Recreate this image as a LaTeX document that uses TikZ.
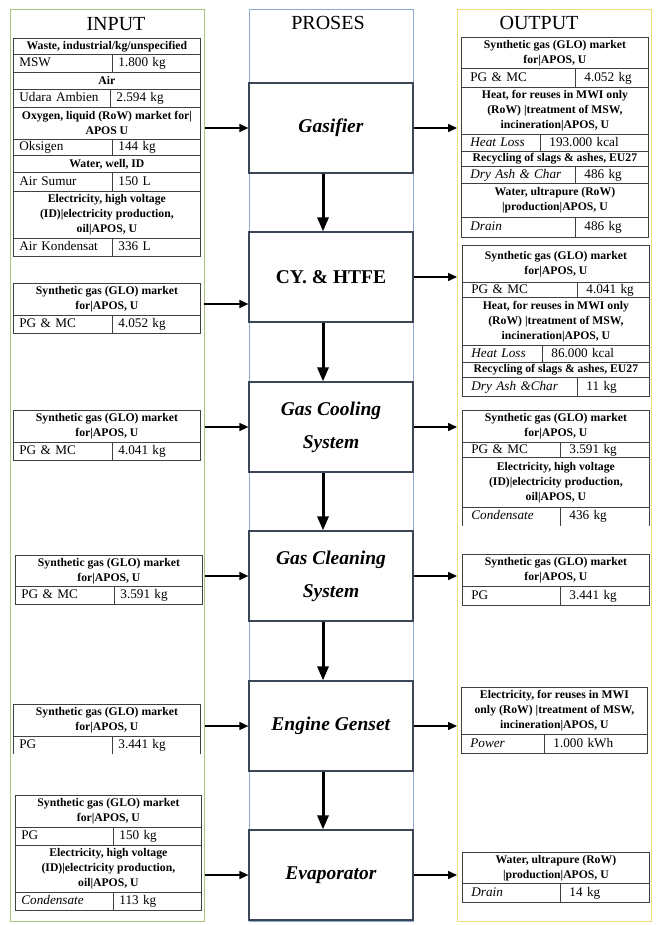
\documentclass[tikz,border=0pt]{standalone}
\usepackage{fontspec}
\setmainfont{Liberation Serif}
\usetikzlibrary{positioning, arrows.meta}
\definecolor{ingreen}{HTML}{A9C47F}
\definecolor{procblue}{HTML}{8EA9CF}
\definecolor{outyellow}{HTML}{F2DC7A}
\definecolor{tabline}{HTML}{404040}
\definecolor{procline}{HTML}{3B4656}

\begin{document}
\begin{tikzpicture}[x=1pt, y=-1pt]
	\tikzset{
		frame/.style={draw, line width=1.4pt, anchor=north west, minimum width=194, minimum height=912, inner sep=0pt},
		title/.style={anchor=base, font=\fontsize{20}{24}\selectfont},
		procbox/.style={draw=procline, line width=1.2pt, fill=white, minimum width=164, minimum height=90, inner sep=0pt, align=center, font=\bfseries\fontsize{19.5}{33}\selectfont},
		hcell/.style={draw=tabline, line width=0.8pt, anchor=north west, inner sep=0pt, align=center, font=\bfseries\fontsize{11.7}{15}\selectfont},
		vcell/.style={draw=tabline, line width=0.8pt, anchor=north west, inner ysep=0pt, text height=9.5pt, text depth=3pt, align=left, font=\fontsize{13.2}{15}\selectfont},
		harrow/.style={-{Triangle[length=9pt,width=8pt]}, line width=1.5pt},
		varrow/.style={-{Triangle[length=14pt,width=11pt]}, line width=3pt}
	}
	\useasboundingbox (0,0) rectangle (659,925);
	\node[frame, draw=ingreen] (inframe) at (10,9) {};
	\node[frame, draw=procblue, minimum width=164] (procframe) at (249,9) {};
	\node[frame, draw=outyellow] (outframe) at (457,9) {};
	\node[title] (intitle) at (116,31) {INPUT};
	\node[title] (proctitle) at (328,30) {PROSES};
	\node[title] (outtitle) at (539,30) {OUTPUT};
	\foreach \n/\y/\txt in {gasif/128/{\textit{Gasifier}}, cy/277/{CY. \& HTFE}, cool/427/{\textit{Gas Cooling}\\\textit{System}},
		clean/576/{\textit{Gas Cleaning}\\\textit{System}}, eng/726/{\textit{Engine Genset}}, evap/875/{\textit{Evaporator}}} {
		\node[procbox] (\n) at (331,\y) {\txt};
	}
	\foreach \n/\xl/\xr/\yt/\yb/\txt in {
		ih1/13/200/38/54/{Waste, industrial/kg/unspecified},
		ih2/13/200/72/89/{Air},
		ih3/13/200/107/139/{Oxygen, liquid (RoW) market for|\\APOS U},
		ih4/13/200/155/172/{Water, well, ID},
		ih5/13/200/191/238/{Electricity, high voltage\\(ID)|electricity production,\\oil|APOS, U},
		ih6/13/200/283/315/{Synthetic gas (GLO) market\\for|APOS, U},
		ih7/13/200/410/442/{Synthetic gas (GLO) market\\for|APOS, U},
		ih8/15/202/555/586/{Synthetic gas (GLO) market\\for|APOS, U},
		ih9/13/200/704/736/{Synthetic gas (GLO) market\\for|APOS, U},
		ih10/15/201/795/827/{Synthetic gas (GLO) market\\for|APOS, U},
		ih11/15/201/845/892/{Electricity, high voltage\\(ID)|electricity production,\\oil|APOS, U},
		oh1/461/648/37/68/{Synthetic gas (GLO) market\\for|APOS, U},
		oh2/461/648/87/134/{Heat, for reuses in MWI only\\(RoW) |treatment of MSW,\\incineration|APOS, U},
		oh3/461/648/151/166/{Recycling of slags \& ashes, EU27},
		oh4/461/648/183/217/{Water, ultrapure (RoW)\\|production|APOS, U},
		oh5/462/649/245/282/{Synthetic gas (GLO) market\\for|APOS, U},
		oh6/462/649/297/345/{Heat, for reuses in MWI only\\(RoW) |treatment of MSW,\\incineration|APOS, U},
		oh7/462/649/362/377/{Recycling of slags \& ashes, EU27},
		oh8/462/649/410/442/{Synthetic gas (GLO) market\\for|APOS, U},
		oh9/462/649/457/507/{Electricity, high voltage\\(ID)|electricity production,\\oil|APOS, U},
		oh10/462/649/554/586/{Synthetic gas (GLO) market\\for|APOS, U},
		oh11/461/647/687/734/{Electricity, for reuses in MWI\\only (RoW) |treatment of MSW,\\incineration|APOS, U},
		oh12/462/649/852/883/{Water, ultrapure (RoW)\\|production|APOS, U}} {
		\node[hcell, minimum width=\xr-\xl, minimum height=\yb-\yt] (\n) at (\xl,\yt) {\txt};
	}
	\foreach \n/\xl/\xd/\xr/\yt/\yb/\ta/\tb in {
		iv1/13/112/200/54/72/{MSW}/{1.800 kg},
		iv2/13/110/200/89/107/{Udara Ambien}/{2.594 kg},
		iv3/13/112/200/139/155/{Oksigen}/{144 kg},
		iv4/13/112/200/172/191/{Air Sumur}/{150 L},
		iv5/13/112/200/238/256/{Air Kondensat}/{336 L},
		iv6/13/112/200/315/333/{PG \& MC}/{4.052 kg},
		iv7/13/112/200/442/460/{PG \& MC}/{4.041 kg},
		iv8/15/114/202/586/604/{PG \& MC}/{3.591 kg},
		iv10/15/113/201/827/845/{PG}/{150 kg},
		iv11/15/113/201/892/910/{\itshape Condensate}/{113 kg},
		ov1/461/575/648/68/87/{PG \& MC}/{4.052 kg},
		ov2/461/540/648/134/151/{\itshape Heat Loss}/{193.000 kcal},
		ov3/461/575/648/166/183/{\itshape Dry Ash \& Char}/{486 kg},
		ov4/461/575/648/217/237/{\itshape Drain}/{486 kg},
		ov5/462/577/649/282/297/{PG \& MC}/{4.041 kg},
		ov6/462/542/649/345/362/{\itshape Heat Loss}/{86.000 kcal},
		ov7/462/577/649/377/396/{\itshape Dry Ash \&Char}/{11 kg},
		ov8/462/560/649/442/457/{PG \& MC}/{3.591 kg},
		ov10/462/560/649/586/605/{PG}/{3.441 kg},
		ov11/461/544/647/734/753/{\itshape Power}/{1.000 kWh},
		ov12/462/560/649/883/902/{\itshape Drain}/{14 kg}} {
		\pgfmathsetmacro\pd{\xl<300 ? 6 : 9}
		\pgfmathsetmacro\wa{\xd-\xl-2*\pd}
		\pgfmathsetmacro\wb{\xr-\xd-2*\pd}
		\node[vcell, inner xsep=\pd pt, text width=\wa pt, minimum height=\yb-\yt] (\n-l) at (\xl,\yt) {\ta};
		\node[vcell, inner xsep=\pd pt, text width=\wb pt, minimum height=\yb-\yt] (\n-r) at (\xd,\yt) {\tb};
	}
	\node[vcell, draw=none, inner xsep=6pt, text width=87pt, minimum height=17] (iv9-l) at (13,736) {PG};
	\node[vcell, draw=none, inner xsep=6pt, text width=76pt, minimum height=17] (iv9-r) at (112,736) {3.441 kg};
	\node[vcell, draw=none, inner xsep=9pt, text width=80pt, minimum height=18] (ov9-l) at (462,507) {\itshape Condensate};
	\node[vcell, draw=none, inner xsep=9pt, text width=71pt, minimum height=18] (ov9-r) at (560,507) {436 kg};
	\foreach \c in {iv9,ov9} {
		\draw[tabline, line width=0.8pt] (\c-l.north west) -- (\c-l.south west) (\c-l.north east) -- (\c-l.south east)
			(\c-r.north east) -- (\c-r.south east);
	}
	\coordinate (cyin) at (204,304);
	\foreach \p in {gasif,cool,clean,eng,evap}
		\draw[harrow] (inframe.east |- \p.west) -- (\p.west);
	\draw[harrow] (cyin) -- (cyin -| cy.west);
	\foreach \p in {gasif,cy,cool,clean,eng,evap}
		\draw[harrow] (\p.east) -- (\p.east -| outframe.west);
	\foreach \a/\b in {gasif/cy,cy/cool,cool/clean,clean/eng,eng/evap}
		\draw[varrow] ([xshift=-8pt]\a.south) -- ([xshift=-8pt]\b.north);
\end{tikzpicture}
\end{document}
